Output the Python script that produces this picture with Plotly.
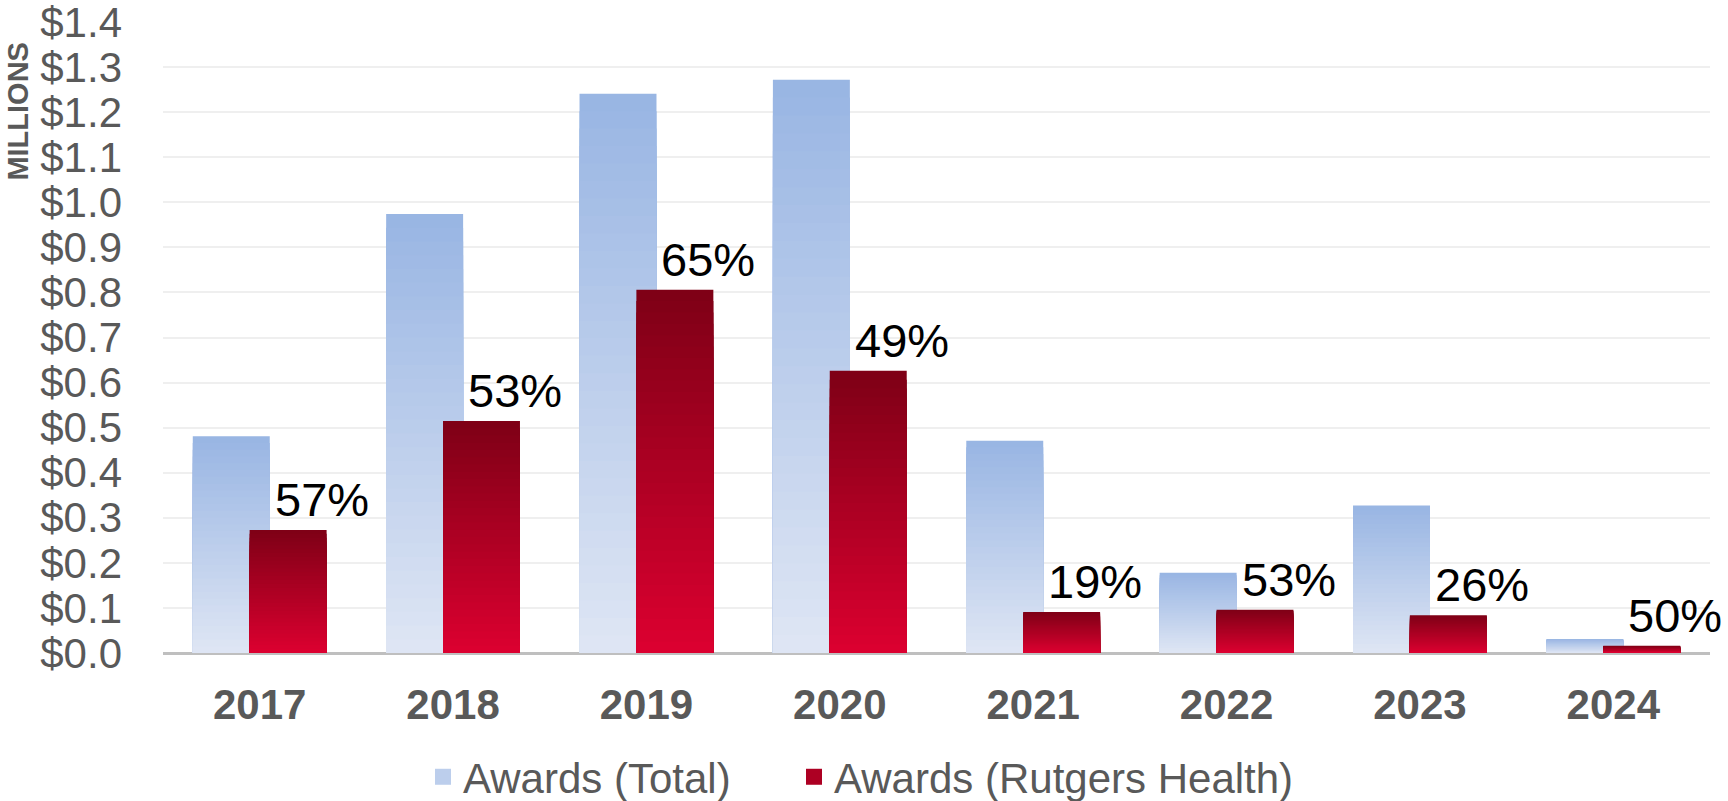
import plotly.graph_objects as go

# ---- data ----
years = ["2017", "2018", "2019", "2020", "2021", "2022", "2023", "2024"]
awards_total = [0.481, 0.974, 1.241, 1.272, 0.471, 0.178, 0.327, 0.031]
awards_rutgers = [0.273, 0.515, 0.806, 0.626, 0.091, 0.096, 0.084, 0.016]
share_labels = ["57%", "53%", "65%", "49%", "19%", "53%", "26%", "50%"]
series_names = ["Awards (Total)", "Awards (Rutgers Health)"]

# ---- style ----
FONT = "Arial, Liberation Sans, Helvetica, sans-serif"
GREY = "#595959"
BLUE_TOP, BLUE_BOTTOM = (152, 181, 227), (223, 230, 244)
RED_TOP, RED_BOTTOM = (126, 0, 22), (220, 0, 48)
N_LAYERS = 32
BAR_W = 0.398


def mix(c1, c2, t):
    return "rgb(%d,%d,%d)" % tuple(round(a + (b - a) * t) for a, b in zip(c1, c2))


fig = go.Figure()


def add_gradient_series(name, values, top, bottom, offset, legend_id):
    # nested bars (tallest first) emulate a vertical gradient per bar
    for i in range(N_LAYERS):
        frac = (N_LAYERS - i) / N_LAYERS
        color = mix(top, bottom, (i + 0.5) / N_LAYERS)
        fig.add_trace(go.Bar(
            x=years, y=[v * frac for v in values],
            width=BAR_W, offset=offset,
            marker=dict(color=color, line=dict(width=0)),
            name=name, legendgroup=name, showlegend=False,
            hoverinfo="skip",
        ))
    # legend entry (square swatch)
    fig.add_trace(go.Scatter(
        x=[None], y=[None], mode="markers", name=name, legendgroup=name,
        marker=dict(symbol="square", size=20, color=mix(top, bottom, 0.5)),
        showlegend=True, legend=legend_id,
    ))


add_gradient_series(series_names[0], awards_total, BLUE_TOP, BLUE_BOTTOM, -0.346, "legend")
add_gradient_series(series_names[1], awards_rutgers, RED_TOP, RED_BOTTOM, -0.052, "legend2")

# category axis: reference categories by index so "2017" is not read as a position
for idx, (v, lab) in enumerate(zip(awards_rutgers, share_labels)):
    fig.add_annotation(
        x=idx, y=v, text=lab, showarrow=False,
        xanchor="center", yanchor="bottom", xshift=62, yshift=2,
        font=dict(family=FONT, size=47, color="#000000"),
    )

fig.add_annotation(
    xref="paper", yref="paper", x=0, y=0.858, xshift=-145,
    text="<b>MILLIONS</b>", textangle=-90, showarrow=False,
    xanchor="center", yanchor="middle",
    font=dict(family=FONT, size=29, color=GREY),
)

legend_common = dict(
    orientation="h", xref="container", yref="container",
    y=0.03, xanchor="left", yanchor="middle",
    font=dict(family=FONT, size=42, color=GREY), itemsizing="trace",
)

fig.update_layout(
    width=1728, height=801,
    barmode="overlay",
    plot_bgcolor="white", paper_bgcolor="white",
    margin=dict(l=163, r=18, t=22, b=148, autoexpand=False),
    font=dict(family=FONT, color=GREY),
    showlegend=True,
    legend=dict(x=0.2448, **legend_common),
    legend2=dict(x=0.4595, **legend_common),
    xaxis=dict(
        type="category", range=[-0.5, 7.5], automargin=False,
        showgrid=False, showline=False, zeroline=False,
        ticks="outside", ticklen=15, tickcolor="rgba(0,0,0,0)",
        tickfont=dict(family=FONT, size=42, color=GREY, weight="bold"),
    ),
    yaxis=dict(
        range=[0, 1.4], dtick=0.1, tick0=0, automargin=False,
        tickprefix="$", tickformat=".1f", ticklabeloverflow="allow",
        showgrid=True, gridcolor="#EFEFEF", gridwidth=2,
        zeroline=True, zerolinecolor="#BFBFBF", zerolinewidth=3,
        showline=False, ticks="", ticklabelstandoff=40,
        tickfont=dict(family=FONT, size=42, color=GREY),
    ),
)

# remove the page's default 8px body margin so the figure fills the window exactly
fig.write_html(
    "out.html",
    config={"displayModeBar": False},
    post_script="document.body.style.margin='0';",
)
